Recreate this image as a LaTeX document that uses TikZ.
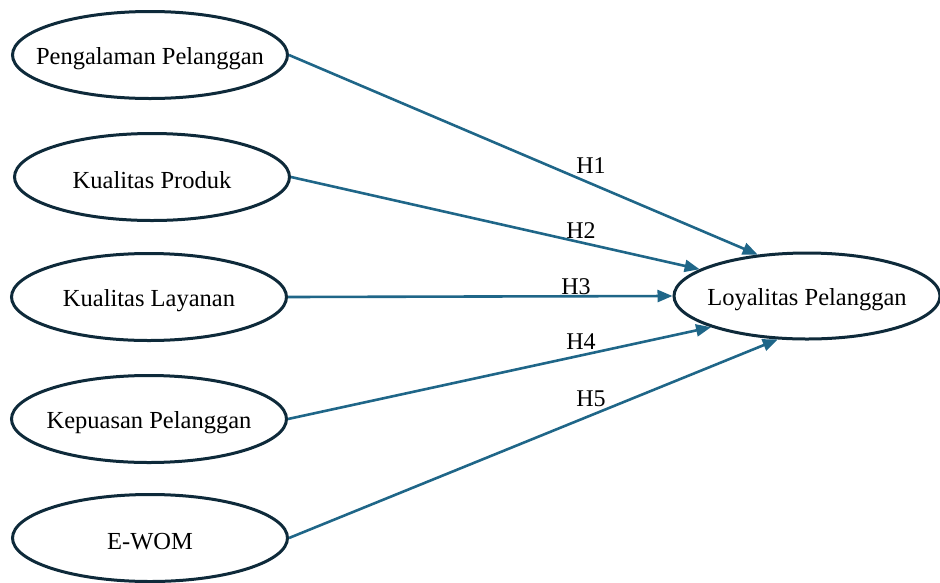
\documentclass[tikz,border=0pt]{standalone}
\usepackage{fontspec}
\setmainfont{Liberation Serif}
\usetikzlibrary{shapes.geometric,arrows.meta}
\definecolor{ellcol}{HTML}{0E2A3A}
\definecolor{linecol}{HTML}{1F6688}
\tikzset{
  construct/.style={ellipse, draw=ellcol, line width=3pt, fill=white,
    minimum width=275pt, minimum height=87pt, inner sep=0pt},
  ctext/.style={font=\fontsize{24.5}{28}\selectfont, inner sep=0pt, yshift=-3.5pt},
  conn/.style={draw=linecol, line width=2.6pt,
    -{Triangle[length=15pt,width=12pt]}},
  hlab/.style={font=\fontsize{24}{28}\selectfont, inner sep=0pt}
}
\begin{document}
\begin{tikzpicture}[x=1pt,y=-1pt]
\useasboundingbox (0,0) rectangle (940,582);
\node[construct, label={[ctext]center:Pengalaman Pelanggan}] (pp) at (150,55) {};
\node[construct, label={[ctext]center:Kualitas Produk}] (kp) at (152,177) {};
\node[construct, label={[ctext]center:Kualitas Layanan}] (kl) at (149,297) {};
\node[construct, label={[ctext]center:Kepuasan Pelanggan}] (kep) at (149,419) {};
\node[construct, label={[ctext]center:E-WOM}] (ew) at (150,538) {};
\node[construct, minimum width=266pt, minimum height=86pt,
  label={[ctext]center:Loyalitas Pelanggan}] (lp) at (807,296) {};

\draw[conn] (pp.east) -- (lp.140);
\draw[conn] (kp.east) -- (lp.166);
\draw[conn] (kl.east) -- (lp.west);
\draw[conn] (kep.east) -- (lp.198);
\draw[conn] (ew.east) -- (lp.236);

\node[hlab] (h1) at (591,166) {H1};
\node[hlab] (h2) at (581,231) {H2};
\node[hlab] (h3) at (576,287) {H3};
\node[hlab] (h4) at (581,342) {H4};
\node[hlab] (h5) at (591,399) {H5};
\end{tikzpicture}
\end{document}
